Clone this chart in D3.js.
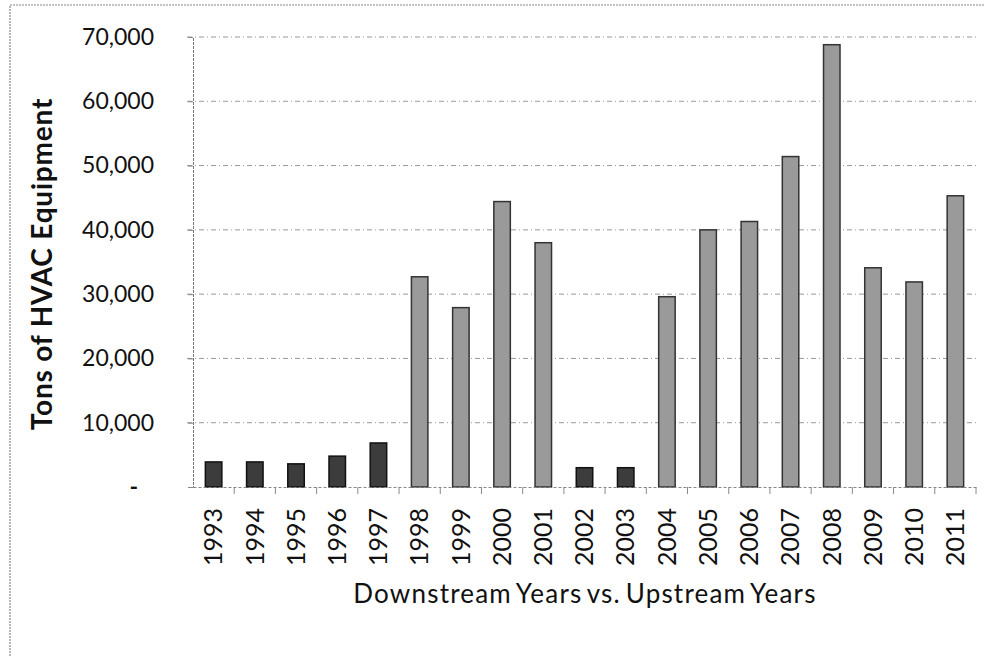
<!DOCTYPE html>
<html>
<head>
<meta charset="utf-8">
<script src="https://cdn.jsdelivr.net/npm/d3@7"></script>
<style>
  body { margin: 0; background: #fff; }
  text { font-family: Lato, "Open Sans", sans-serif; fill: #111; }
</style>
</head>
<body>
<div id="chart"></div>
<script>
var width = 984,
    height = 656;

var years = ["1993", "1994", "1995", "1996", "1997", "1998", "1999", "2000", "2001", "2002",
             "2003", "2004", "2005", "2006", "2007", "2008", "2009", "2010", "2011"];
var tons = [3900, 3900, 3600, 4800, 6850, 32700, 27900, 44400, 38000, 3000,
            3000, 29600, 40000, 41300, 51400, 68800, 34100, 31900, 45300];
var stream = ["down", "down", "down", "down", "down", "up", "up", "up", "up", "down",
              "down", "up", "up", "up", "up", "up", "up", "up", "up"];
var yTicks = [0, 10000, 20000, 30000, 40000, 50000, 60000, 70000];

var margin = {top: 37, right: 8, bottom: 169, left: 193};

var svg = d3.select("#chart").append("svg")
    .attr("width", width)
    .attr("height", height);

// scanned page frame
svg.append("path")
    .attr("d", "M10,656V5H984")
    .attr("fill", "none")
    .attr("stroke", "#888")
    .attr("stroke-width", 1.2)
    .attr("stroke-dasharray", "2,1");

var x = d3.scaleBand()
    .domain(years)
    .range([margin.left, width - margin.right])
    .paddingInner(0.6)
    .paddingOuter(0.3);

var y = d3.scaleLinear()
    .domain([0, 70000])
    .range([height - margin.bottom, margin.top]);

// gridlines
svg.append("g")
  .selectAll("line")
    .data(yTicks.slice(1))
  .enter().append("line")
    .attr("x1", margin.left - 6)
    .attr("x2", width - margin.right)
    .attr("y1", function(d) { return y(d); })
    .attr("y2", function(d) { return y(d); })
    .attr("stroke", "#999")
    .attr("stroke-width", 1)
    .attr("stroke-dasharray", "5,3,1,3");

// bars
svg.append("g")
  .selectAll("rect")
    .data(years)
  .enter().append("rect")
    .attr("x", function(d) { return x(d); })
    .attr("width", x.bandwidth())
    .attr("y", function(d, i) { return y(tons[i]); })
    .attr("height", function(d, i) { return y(0) - y(tons[i]); })
    .attr("fill", function(d, i) { return stream[i] === "down" ? "#3c3c3c" : "#9a9a9a"; })
    .attr("stroke", function(d, i) { return stream[i] === "down" ? "#111" : "#333"; })
    .attr("stroke-width", 1.5);

// y axis
var yAxis = svg.append("g")
    .attr("transform", "translate(" + margin.left + ",0)")
    .call(d3.axisLeft(y)
      .tickValues(yTicks)
      .tickSize(5)
      .tickPadding(34)
      .tickFormat(function(d) { return d === 0 ? "-" : d3.format(",")(d); }));
yAxis.select(".domain").attr("stroke", "#777").attr("stroke-dasharray", "3,1");
yAxis.selectAll(".tick line").attr("stroke", "#888");
yAxis.selectAll(".tick text")
    .style("font-size", "23px")
    .attr("fill", "#111")
    .attr("dx", function(d) { return d === 0 ? -16 : 0; })
    .style("font-weight", function(d) { return d === 0 ? "bold" : null; });

// x axis
var xAxis = svg.append("g")
    .attr("transform", "translate(0," + y(0) + ")")
    .call(d3.axisBottom(x).tickSize(0).tickPadding(10));
xAxis.select(".domain").attr("stroke", "#888").attr("stroke-dasharray", "3,2");
xAxis.selectAll(".tick text")
    .style("font-size", "25px")
    .attr("fill", "#111")
    .attr("text-anchor", "end")
    .attr("dy", "0.35em")
    .attr("transform", "translate(0,21) rotate(-90)")
    .attr("x", 0)
    .attr("y", 0);

// x tick marks at category boundaries
var step = x.step();
svg.append("g")
  .selectAll("line")
    .data(years)
  .enter().append("line")
    .attr("x1", function(d) { return x(d) + x.bandwidth() / 2 + step / 2; })
    .attr("x2", function(d) { return x(d) + x.bandwidth() / 2 + step / 2; })
    .attr("y1", y(0))
    .attr("y2", y(0) + 7)
    .attr("stroke", "#888");

// axis titles
svg.append("text")
    .attr("transform", "translate(52,264) rotate(-90)")
    .attr("text-anchor", "middle")
    .style("font-size", "28px")
    .style("font-weight", "bold")
    .style("letter-spacing", "0.8px")
    .text("Tons of HVAC Equipment");

svg.append("text")
    .attr("x", 585)
    .attr("y", 603)
    .attr("text-anchor", "middle")
    .style("font-size", "26px")
    .style("letter-spacing", "1.2px")
    .style("word-spacing", "-3px")
    .text("Downstream Years vs. Upstream Years");
</script>
</body>
</html>
